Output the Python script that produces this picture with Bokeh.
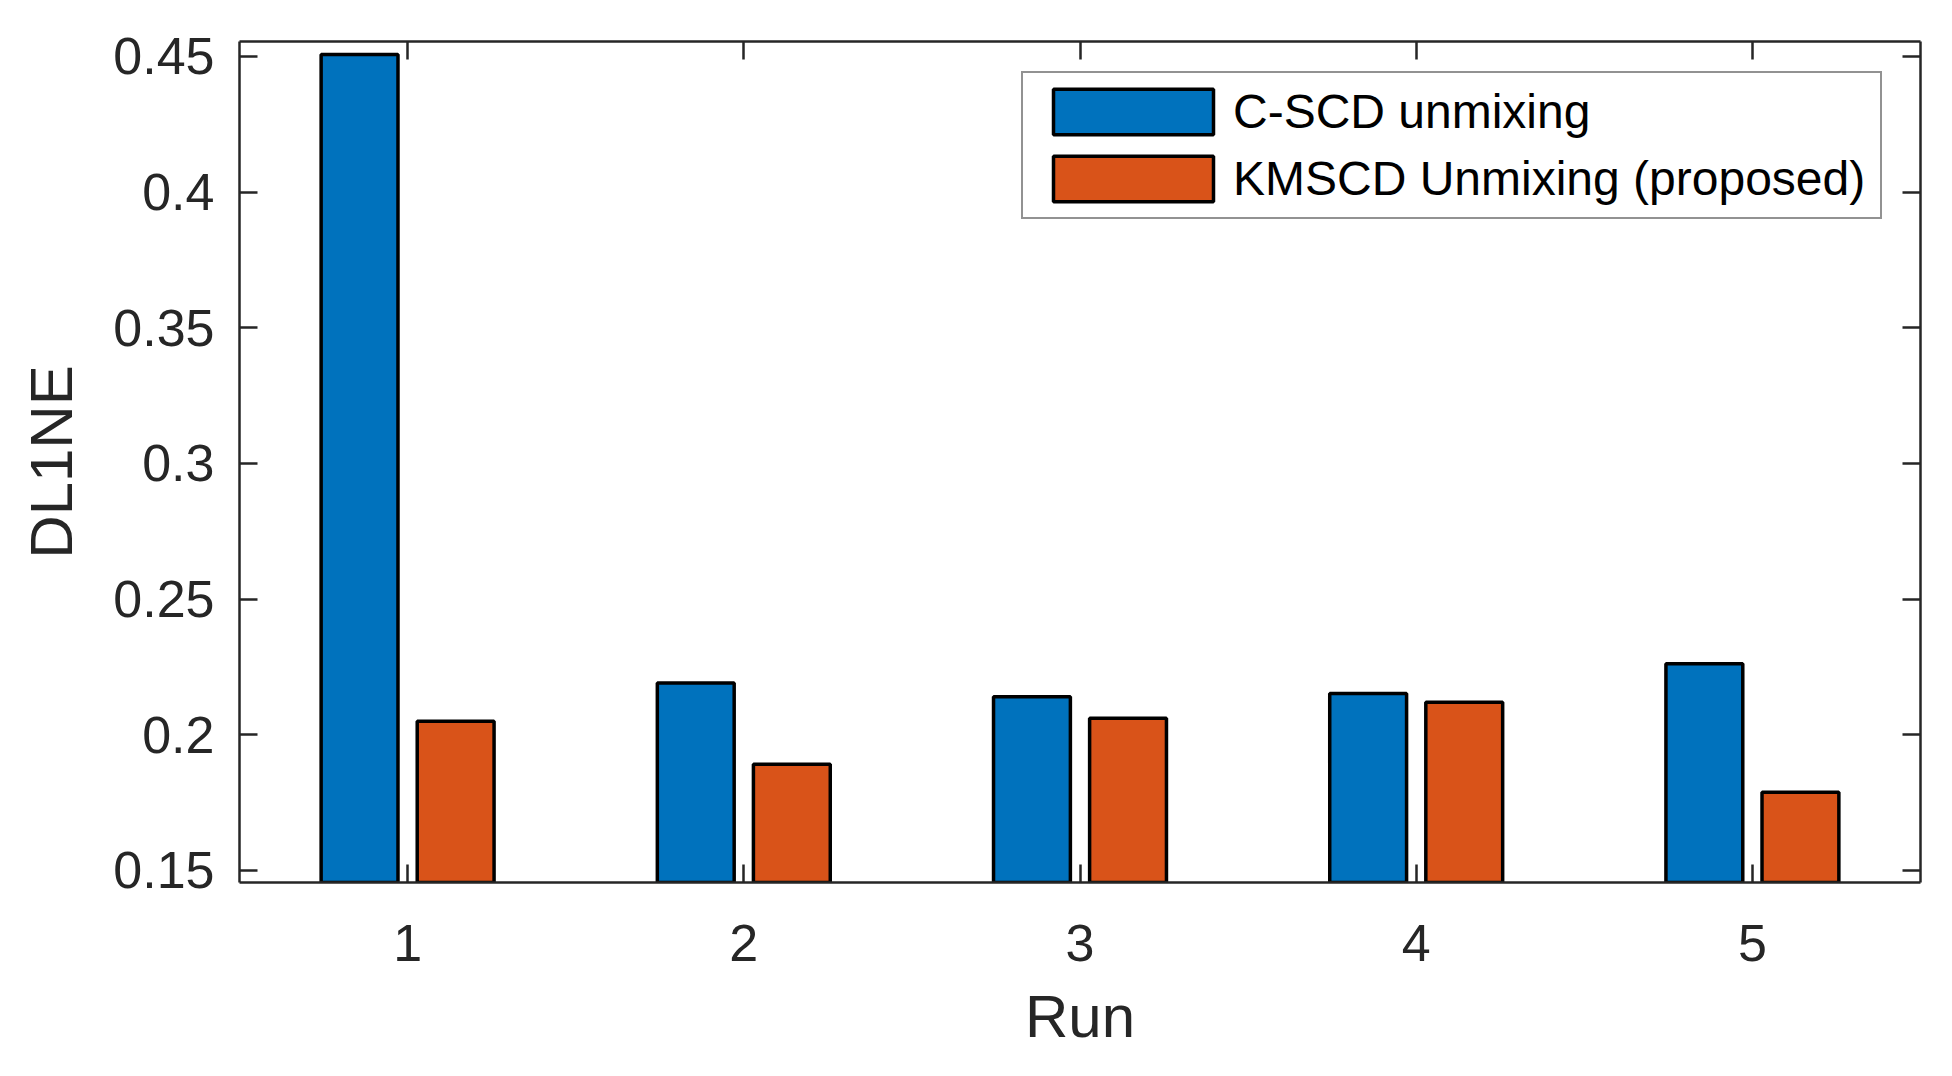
from bokeh.plotting import figure
from bokeh.models import Range1d, LinearAxis, FixedTicker, Legend, LegendItem
from bokeh.embed import file_html
from bokeh.resources import INLINE

# ---- data ----
runs = [1, 2, 3, 4, 5]
c_scd = [0.4507, 0.219, 0.214, 0.2152, 0.2261]
kmscd = [0.2049, 0.1891, 0.206, 0.2119, 0.1788]
series_names = ["C-SCD unmixing", "KMSCD Unmixing (proposed)"]
y_ticks = [0.15, 0.2, 0.25, 0.3, 0.35, 0.4, 0.45]
y_tick_labels = ["0.15", "0.2", "0.25", "0.3", "0.35", "0.4", "0.45"]
x_tick_labels = ["1", "2", "3", "4", "5"]
x_title = "Run"
y_title = "DL1NE"

BLUE = "#0072BD"
ORANGE = "#D95319"
AX = "#262626"
FONT = "Liberation Sans"
TICK_FS = "52px"
LABEL_FS = "60px"
LEG_FS = "48px"

offset = 0.1429
bw = 0.2286

p = figure(width=1930, height=1060, output_backend="svg", toolbar_location=None,
           x_range=Range1d(0.5, 5.5), y_range=Range1d(0.1455, 0.4555),
           min_border_left=239, min_border_top=41, min_border_right=10,
           min_border_bottom=178)
p.background_fill_color = "white"
p.border_fill_color = "white"
p.outline_line_color = None
p.xgrid.visible = False
p.ygrid.visible = False

r1 = p.vbar(x=[r - offset for r in runs], top=c_scd, bottom=0, width=bw,
            fill_color=BLUE, line_color="black", line_width=3.5)
r2 = p.vbar(x=[r + offset for r in runs], top=kmscd, bottom=0, width=bw,
            fill_color=ORANGE, line_color="black", line_width=3.5)

def style_axis(ax, show_labels, standoff):
    ax.axis_line_color = AX
    ax.axis_line_width = 2.5
    ax.major_tick_line_color = AX
    ax.major_tick_line_width = 2.5
    ax.major_tick_in = 18
    ax.major_tick_out = 0
    ax.minor_tick_line_color = None
    ax.major_label_text_font = FONT
    ax.major_label_text_color = AX
    ax.major_label_standoff = standoff
    if show_labels:
        ax.major_label_text_font_size = TICK_FS
    else:
        ax.major_label_text_font_size = "0px"
        ax.major_label_text_color = None

xa = p.xaxis[0]
xa.ticker = FixedTicker(ticks=runs)
xa.major_label_overrides = {r: l for r, l in zip(runs, x_tick_labels)}
style_axis(xa, True, 42)
xa.axis_label = x_title
xa.axis_label_text_font = FONT
xa.axis_label_text_font_size = LABEL_FS
xa.axis_label_text_font_style = "normal"
xa.axis_label_text_color = AX
xa.axis_label_standoff = 19

ya = p.yaxis[0]
ya.ticker = FixedTicker(ticks=y_ticks)
ya.major_label_overrides = {t: l for t, l in zip(y_ticks, y_tick_labels)}
style_axis(ya, True, 25)
ya.axis_label = y_title
ya.axis_label_text_font = FONT
ya.axis_label_text_font_size = LABEL_FS
ya.axis_label_text_font_style = "normal"
ya.axis_label_text_color = AX
ya.axis_label_standoff = 25

top_ax = LinearAxis(ticker=FixedTicker(ticks=runs))
style_axis(top_ax, False, 0)
p.add_layout(top_ax, "above")
right_ax = LinearAxis(ticker=FixedTicker(ticks=y_ticks))
style_axis(right_ax, False, 0)
p.add_layout(right_ax, "right")

legend = Legend(items=[LegendItem(label=series_names[0], renderers=[r1]),
                       LegendItem(label=series_names[1], renderers=[r2])],
                location=(782, 663))
legend.label_text_font = FONT
legend.label_text_font_size = LEG_FS
legend.label_text_color = "black"
legend.glyph_width = 200
legend.glyph_height = 57
legend.label_standoff = 0
legend.label_width = 637
legend.padding = 10
legend.spacing = 10
legend.margin = 0
legend.border_line_color = AX
legend.border_line_width = 2.5
legend.background_fill_color = "white"
legend.background_fill_alpha = 1.0
p.add_layout(legend, "center")

open("out.html", "w").write(file_html(p, INLINE))
